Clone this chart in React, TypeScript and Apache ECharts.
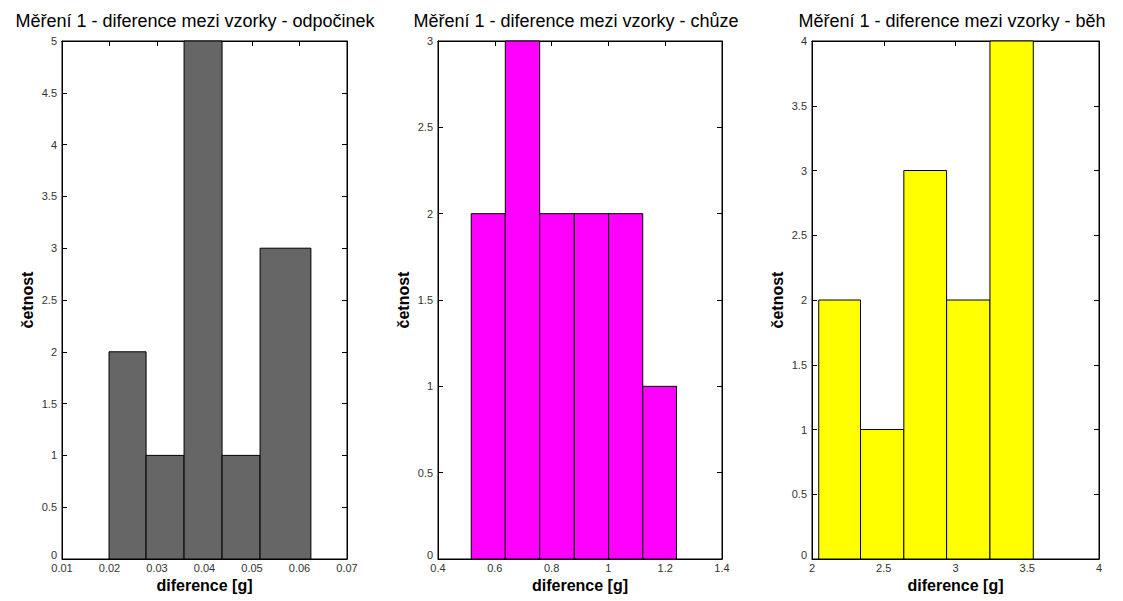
import React, { useEffect, useRef } from "react";
import * as echarts from "echarts";

const titles = [
  "Měření 1 - diference mezi vzorky - odpočinek",
  "Měření 1 - diference mezi vzorky - chůze",
  "Měření 1 - diference mezi vzorky - běh",
];
const restEdges = [0.0199, 0.0277, 0.0357, 0.0437, 0.0517, 0.0624];
const restCounts = [2, 1, 5, 1, 3];
const walkEdges = [0.517, 0.637, 0.758, 0.88, 1.001, 1.121, 1.24];
const walkCounts = [2, 3, 2, 2, 2, 1];
const runEdges = [2.047, 2.338, 2.64, 2.938, 3.24, 3.542];
const runCounts = [2, 1, 3, 2, 4];

const xRanges = [
  { min: 0.01, max: 0.07, interval: 0.01, dec: 2 },
  { min: 0.4, max: 1.4, interval: 0.2, dec: 1 },
  { min: 2, max: 4, interval: 0.5, dec: 1 },
];
const yMax = [5, 3, 4];
const colors = ["#666666", "#ff00ff", "#ffff00"];
const xLabel = "diference [g]";
const yLabel = "četnost";

const gridPos = [
  { left: 62, width: 285 },
  { left: 438, width: 284 },
  { left: 812, width: 287 },
];
const titleCenters = [195, 576, 952];

function bins(edges: number[], counts: number[]) {
  return counts.map((c, i) => [edges[i], edges[i + 1], c]);
}

export default function App() {
  const ref = useRef<HTMLDivElement>(null);
  useEffect(() => {
    const chart = echarts.init(ref.current!, null, { renderer: "svg" });
    const data = [
      bins(restEdges, restCounts),
      bins(walkEdges, walkCounts),
      bins(runEdges, runCounts),
    ];
    const font = "Liberation Sans, Arial, sans-serif";
    const grids: any[] = [];
    const xAxes: any[] = [];
    const yAxes: any[] = [];
    const series: any[] = [];
    const graphics: any[] = [];
    for (let i = 0; i < 3; i++) {
      grids.push({
        left: gridPos[i].left,
        width: gridPos[i].width,
        top: 41,
        height: 518,
        show: true,
        borderColor: "#000",
        borderWidth: 1,
        backgroundColor: "#fff",
      });
      const xr = xRanges[i];
      const fmt = (v: number) => String(+v.toFixed(xr.dec + 1));
      xAxes.push({
        type: "value",
        gridIndex: i,
        min: xr.min,
        max: xr.max,
        interval: xr.interval,
        position: "bottom",
        name: xLabel,
        nameLocation: "middle",
        nameGap: 14,
        nameTextStyle: { fontFamily: font, fontSize: 16, fontWeight: "bold", color: "#000" },
        axisLine: { show: true, onZero: false, lineStyle: { color: "#000" } },
        axisTick: { show: true, inside: true, length: 5, lineStyle: { color: "#000" } },
        axisLabel: { fontFamily: font, fontSize: 11, color: "#333", margin: 3, formatter: fmt },
        splitLine: { show: false },
      });
      xAxes.push({
        type: "value",
        gridIndex: i,
        min: xr.min,
        max: xr.max,
        interval: xr.interval,
        position: "top",
        axisLine: { show: true, onZero: false, lineStyle: { color: "#000" } },
        axisTick: { show: true, inside: true, length: 5, lineStyle: { color: "#000" } },
        axisLabel: { show: false },
        splitLine: { show: false },
      });
      yAxes.push({
        type: "value",
        gridIndex: i,
        min: 0,
        max: yMax[i],
        interval: 0.5,
        position: "left",
        name: yLabel,
        nameLocation: "middle",
        nameGap: 27,
        nameTextStyle: { fontFamily: font, fontSize: 16, fontWeight: "bold", color: "#000" },
        axisLine: { show: true, onZero: false, lineStyle: { color: "#000" } },
        axisTick: { show: true, inside: true, length: 5, lineStyle: { color: "#000" } },
        axisLabel: {
          fontFamily: font,
          fontSize: 11,
          color: "#333",
          margin: 5,
          formatter: (v: number) => (v === 0 ? "{z|0}" : String(v)),
          rich: { z: { fontFamily: font, fontSize: 11, color: "#333", padding: [0, 0, 9, 0] } },
        },
        splitLine: { show: false },
      });
      yAxes.push({
        type: "value",
        gridIndex: i,
        min: 0,
        max: yMax[i],
        interval: 0.5,
        position: "right",
        axisLine: { show: true, onZero: false, lineStyle: { color: "#000" } },
        axisTick: { show: true, inside: true, length: 5, lineStyle: { color: "#000" } },
        axisLabel: { show: false },
        splitLine: { show: false },
      });
      const color = colors[i];
      series.push({
        type: "custom",
        xAxisIndex: i * 2,
        yAxisIndex: i * 2,
        encode: { x: [0, 1], y: 2 },
        data: data[i],
        renderItem: (params: any, api: any) => {
          const p0 = api.coord([api.value(0), api.value(2)]);
          const p1 = api.coord([api.value(1), 0]);
          return {
            type: "rect",
            shape: { x: p0[0], y: p0[1], width: p1[0] - p0[0], height: p1[1] - p0[1] },
            style: { fill: color, stroke: "#000", lineWidth: 1 },
          };
        },
      });
      graphics.push({
        type: "text",
        x: titleCenters[i],
        y: 21,
        style: {
          text: titles[i],
          font: "18px " + font,
          fill: "#000",
          textAlign: "center",
          textVerticalAlign: "middle",
        },
      });
    }
    chart.setOption({
      animation: false,
      backgroundColor: "#fff",
      grid: grids,
      xAxis: xAxes,
      yAxis: yAxes,
      series,
      graphic: graphics,
    });
    return () => chart.dispose();
  }, []);
  return (
    <div
      ref={ref}
      style={{ position: "fixed", left: 0, top: 0, width: 1123, height: 601 }}
    />
  );
}
